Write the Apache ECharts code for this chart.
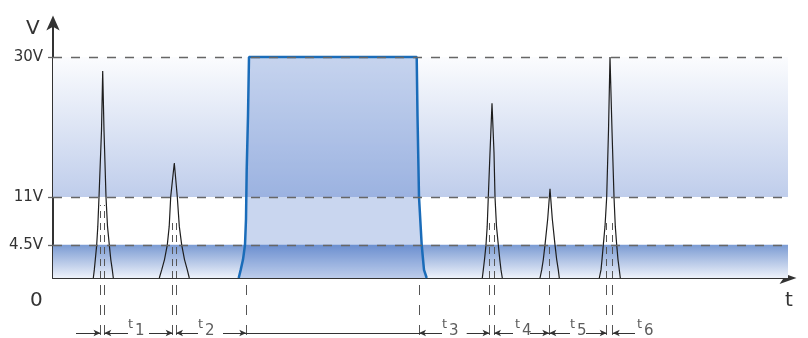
<!DOCTYPE html>
<html style="height: 100%">
<head>
<meta charset="utf-8">
<title>V-t Signal</title>
<script src="https://cdn.jsdelivr.net/npm/echarts@6/dist/echarts.min.js"></script>
</head>
<body style="height: 100%; margin: 0; background: #fff">
<div id="container" style="width: 808px; height: 338px"></div>
<script type="text/javascript">
// time runs 0..735 (no unit), voltage in V
var tMax = 735;
var vMax = 34.6;
var levels = [4.5, 11, 30];
var highBand = [11, 30];
var lowBand = [0, 4.5];

// short spikes [t, V]
var spike1 = [[40.3, 0], [41.3, 1.1], [42.3, 2.5], [43.7, 4.5], [44.8, 7], [46, 11], [48.5, 20], [49.7, 28.1],
              [51, 20], [53, 11], [54.5, 7], [56.3, 4.5], [57.8, 2.5], [59.3, 1.1], [60.3, 0]];
var spike2 = [[106.3, 0], [108.7, 1.1], [111.5, 2.5], [114.3, 4.5], [116.2, 7], [117.7, 11], [121.3, 15.6],
              [124.3, 11], [126.3, 7], [128.7, 4.5], [131.5, 2.5], [134.3, 1.1], [136.3, 0]];
var spike3 = [[429.3, 0], [430.3, 1.1], [431.5, 2.5], [433, 4.5], [434.2, 7], [435.3, 11], [437, 17], [439, 23.7],
              [441, 17], [442, 11], [443.5, 7], [445.3, 4.5], [446.8, 2.5], [448, 1.1], [449.3, 0]];
var spike4 = [[487, 0], [488.7, 1.1], [490.3, 2.5], [492, 4.5], [494.7, 8], [497, 12.1],
              [499.3, 8], [502, 4.5], [503.7, 2.5], [505.3, 1.1], [506.3, 0]];
var spike5 = [[546.3, 0], [548, 1.1], [549, 2.5], [550.3, 4.5], [552, 7], [553.7, 11], [555.5, 20], [557, 30],
              [559, 20], [561, 11], [562.3, 7], [563.7, 4.5], [565, 2.5], [566.3, 1.1], [567.3, 0]];

// the long pulse
var pulse = [[185.7, 0], [187.7, 1.1], [190, 2.5], [192, 4.5], [193, 8], [193.7, 14.7], [195, 22], [196, 30],
             [363.7, 30], [364.5, 22], [365.5, 14.7], [366, 11], [368.7, 4.5], [371, 1.1], [373.7, 0]];

// dashed time markers: t, and how high (V) they reach into the plot
var markT = [47.5, 51.3, 119.7, 123, 193.3, 366, 436.5, 441, 496.3, 553.7, 559.7];
var markTop = [9.9, 9.9, 7.5, 7.5, 0, 0, 7.9, 7.9, 4.3, 7.6, 7.6];

// dimension arrows below the axis: [from, to], arrow head at "to"
var arrowSegs = [[23, 47.5], [75, 51.3], [96, 119.7], [145, 123], [170, 193.3], [389, 366],
                 [413.7, 436.5], [460, 441], [477, 496.3], [517, 496.3], [533, 553.7], [582, 559.7]];
var plainSegs = [[193.3, 366]];
var tLabelX = [75, 145, 389, 462, 517, 584];
var tLabelNo = ['1', '2', '3', '4', '5', '6'];

var font = 'DejaVu Sans';
var ink = '#333';

function spikeSeries(d) {
    return {
        type: 'line', data: d, symbol: 'none', z: 4, silent: true,
        lineStyle: { color: '#1e1e1e', width: 1.2 }
    };
}

var chart = echarts.init(document.getElementById('container'));
var option = {
    animation: false,
    grid: [
        { left: 53, right: 20, top: 23, bottom: 60 },
        { left: 53, right: 20, top: 278, bottom: 0 }
    ],
    xAxis: [{
        type: 'value', min: 0, max: tMax,
        axisLine: { show: true, symbol: ['none', 'arrow'], symbolSize: [9, 17], symbolOffset: [0, 8.5],
            lineStyle: { color: ink, width: 2 } },
        axisTick: { show: false }, axisLabel: { show: false }, splitLine: { show: false }
    }, {
        gridIndex: 1, type: 'value', min: 0, max: tMax, show: false
    }],
    yAxis: [{
        type: 'value', min: 0, max: vMax,
        axisLine: { show: true, symbol: ['none', 'arrow'], symbolSize: [10, 15], symbolOffset: [0, 7.5],
            lineStyle: { color: ink, width: 2 } },
        axisTick: { show: true, customValues: levels, length: 5, lineStyle: { color: '#666', width: 1.3 } },
        axisLabel: { customValues: levels, margin: 10, color: ink, fontSize: 15, fontFamily: font,
            formatter: function (v) { return v + 'V'; } },
        splitLine: { show: false }
    }, {
        gridIndex: 1, type: 'value', min: 0, max: 60, inverse: true, show: false
    }],
    graphic: [
        { type: 'text', left: 26, top: 19, style: { text: 'V', font: '20px "DejaVu Sans"', fill: ink } },
        { type: 'text', left: 30, top: 291, style: { text: '0', font: '20px "DejaVu Sans"', fill: ink } },
        { type: 'text', left: 785, top: 291, style: { text: 't', font: '20px "DejaVu Sans"', fill: ink } },
        { type: 'text', right: 23, top: 170, style: { text: 'high', font: '17px "DejaVu Sans"', fill: ink } },
        { type: 'text', right: 23, top: 256, style: { text: 'low', font: '17px "DejaVu Sans"', fill: ink } }
    ],
    series: [
        {
            name: 'bands', type: 'line', data: [], silent: true,
            markArea: {
                silent: true,
                label: { show: false },
                data: [
                    [{ coord: [0, highBand[1]], itemStyle: { color: { type: 'linear', x: 0, y: 0, x2: 0, y2: 1,
                        colorStops: [{ offset: 0, color: '#fbfcfe' }, { offset: 1, color: '#bfcdeb' }] } } },
                     { coord: [tMax, highBand[0]] }],
                    [{ coord: [0, lowBand[1]], itemStyle: { color: { type: 'linear', x: 0, y: 0, x2: 0, y2: 1,
                        colorStops: [{ offset: 0, color: '#7b9bd3' }, { offset: 1, color: '#eef2fa' }] } } },
                     { coord: [tMax, lowBand[0]] }]
                ]
            }
        },
        {
            name: 'pulse', type: 'line', data: pulse, symbol: 'none', z: 2, silent: true,
            lineStyle: { color: '#1a6cb9', width: 2.5 },
            areaStyle: { color: 'rgba(70,115,200,0.42)' }
        },
        {
            name: 'levels', type: 'line', data: [], silent: true,
            markLine: {
                silent: true, symbol: 'none', label: { show: false },
                lineStyle: { color: '#666', width: 1.3, type: [9, 9] },
                data: levels.map(function (v) { return { yAxis: v }; })
            }
        },
        spikeSeries(spike1), spikeSeries(spike2), spikeSeries(spike3), spikeSeries(spike4), spikeSeries(spike5),
        {
            name: 'marks', type: 'line', data: [], silent: true,
            markLine: {
                silent: true, symbol: 'none', label: { show: false },
                lineStyle: { color: '#555', width: 1, type: [7, 5] },
                data: markT.filter(function (t, i) { return markTop[i] > 0; }).map(function (t) {
                    return [{ coord: [t, 0] }, { coord: [t, markTop[markT.indexOf(t)]] }];
                })
            }
        },
        {
            name: 'marksBelow', type: 'line', xAxisIndex: 1, yAxisIndex: 1, data: [], silent: true,
            markLine: {
                silent: true, symbol: 'none', label: { show: false },
                lineStyle: { color: '#555', width: 1, type: [10, 10] },
                data: markT.map(function (t) { return [{ coord: [t, 7] }, { coord: [t, 58] }]; })
            }
        },
        {
            name: 'arrows', type: 'line', xAxisIndex: 1, yAxisIndex: 1, data: [], silent: true,
            markLine: {
                silent: true, symbol: ['none', 'arrow'], symbolSize: [5, 7], label: { show: false },
                lineStyle: { color: ink, width: 1, type: 'solid' },
                data: arrowSegs.map(function (s) { return [{ coord: [s[0], 55] }, { coord: [s[1], 55] }]; })
                    .concat(plainSegs.map(function (s) {
                        return [{ coord: [s[0], 55], symbol: 'none' }, { coord: [s[1], 55], symbol: 'none' }];
                    }))
            }
        },
        {
            name: 'tLabels', type: 'scatter', xAxisIndex: 1, yAxisIndex: 1, symbolSize: 0, silent: true,
            data: tLabelX.map(function (x, i) { return { value: [x, 50], name: tLabelNo[i] }; }),
            label: {
                show: true, position: [0, 0], align: 'left', verticalAlign: 'middle',
                formatter: function (p) { return '{t|t}{n|' + p.name + '}'; },
                rich: {
                    t: { fontSize: 13, fontFamily: font, color: ink, padding: [0, 0, 6, 0] },
                    n: { fontSize: 15, fontFamily: font, color: ink, padding: [6, 0, 0, 2] }
                }
            }
        }
    ]
};
chart.setOption(option);
</script>
</body>
</html>
